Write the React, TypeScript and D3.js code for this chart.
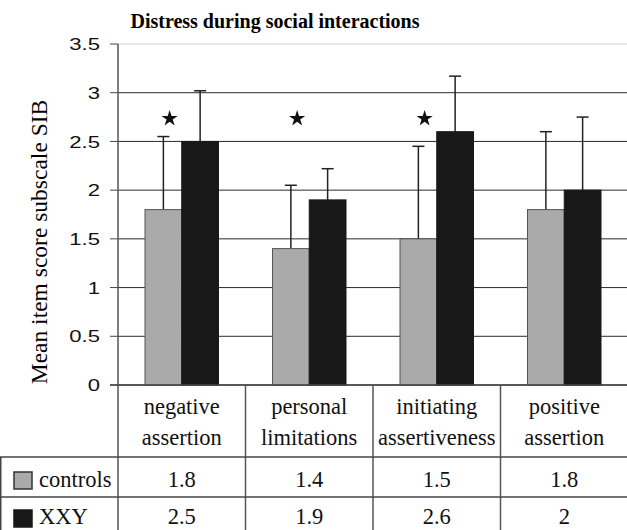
import React from 'react';
import * as d3 from 'd3';

// chart data
const categories = ['negative assertion', 'personal limitations', 'initiating assertiveness', 'positive assertion'];
const categoryLines = [['negative', 'assertion'], ['personal', 'limitations'], ['initiating', 'assertiveness'], ['positive', 'assertion']];
const series = ['controls', 'XXY'];
const controls = [1.8, 1.4, 1.5, 1.8];
const xxy = [2.5, 1.9, 2.6, 2.0];
const controlsSd = [0.75, 0.65, 0.95, 0.8];
const xxySd = [0.52, 0.32, 0.57, 0.75];
const significant = [true, true, true, false];
const yTicks = [0, 0.5, 1, 1.5, 2, 2.5, 3, 3.5];
const tickLabels = ['0', '0.5', '1', '1.5', '2', '2.5', '3', '3.5'];
const starLevel = 2.735;

const W = 627;
const H = 530;
const serif = { fontFamily: "'Liberation Serif', 'Times New Roman', Times, serif" };
const sans = { fontFamily: "'Liberation Sans', Arial, Helvetica, sans-serif" };
const colors = { controls: '#aaaaaa', XXY: '#181818' };

const App: React.FC = () => {
  const plotLeft = 118;
  const plotRight = 628;
  const y = d3.scaleLinear().domain([0, 3.5]).range([385, 44]);
  const x0 = d3.scaleBand<string>().domain(categories).range([plotLeft, plotRight]);
  const step = x0.bandwidth();
  const x1 = d3.scaleBand<string>().domain(series).range([27, step - 27]);
  const bw = x1.bandwidth();
  const values = [controls, xxy];
  const sds = [controlsSd, xxySd];

  const rowTop = 457;
  const rowMid = 497;
  const base = y(0);

  const star = d3.symbol().type(d3.symbolStar).size(81)();

  return (
    <svg width={W} height={H} style={{ position: 'absolute', left: 0, top: 0, background: '#fff' }}>
      <rect x={0} y={0} width={W} height={H} fill="#fff" />
      {/* title */}
      <text x={275} y={28} textAnchor="middle" style={serif} fontWeight="bold" fontSize={20}>
        Distress during social interactions
      </text>
      {/* y title */}
      <text transform={`translate(47,242) rotate(-90)`} textAnchor="middle" style={serif} fontSize={23.5}>
        Mean item score subscale SIB
      </text>

      {/* grid lines */}
      {yTicks.map((t) => (
        <line
          key={'g' + t}
          x1={plotLeft}
          x2={W}
          y1={y(t)}
          y2={y(t)}
          stroke={t === 3.5 ? '#cfcfcf' : '#2a2a2a'}
          strokeWidth={1}
        />
      ))}
      {/* ticks and labels (the source font is drawn wide) */}
      {yTicks.map((t, i) => (
        <g key={'t' + t}>
          <line x1={110} x2={plotLeft} y1={y(t)} y2={y(t)} stroke="#444" />
          <text
            transform={`translate(100,${y(t)}) scale(1.3,1)`}
            dy="0.36em"
            textAnchor="end"
            style={sans}
            fontSize={17}
            fill="#111"
          >
            {tickLabels[i]}
          </text>
        </g>
      ))}

      {/* bars */}
      {categories.map((c, ci) => (
        <g key={c} transform={`translate(${x0(c)},0)`}>
          {series.map((s, si) => {
            const v = values[si][ci];
            const sd = sds[si][ci];
            const bx = x1(s) as number;
            const cx = bx + bw / 2;
            return (
              <g key={s}>
                <line x1={cx} x2={cx} y1={y(v)} y2={y(v + sd)} stroke="#222" strokeWidth={1.5} />
                <line x1={cx - 6} x2={cx + 6} y1={y(v + sd)} y2={y(v + sd)} stroke="#222" strokeWidth={1.5} />
                <rect
                  x={bx}
                  y={y(v)}
                  width={bw}
                  height={base - y(v)}
                  fill={colors[s as 'controls' | 'XXY']}
                  stroke={si === 0 ? '#555' : '#181818'}
                  strokeWidth={1}
                />
              </g>
            );
          })}
          {significant[ci] && (
            <path
              d={star as string}
              transform={`translate(${(x1('controls') as number) + bw * 0.67},${y(starLevel)})`}
              fill="#111"
            />
          )}
        </g>
      ))}

      {/* axis line */}
      <line x1={plotLeft} x2={plotLeft} y1={y(3.5)} y2={H} stroke="#555" strokeWidth={1.5} />
      <line x1={110} x2={W} y1={base} y2={base} stroke="#444" strokeWidth={1.5} />

      {/* data table */}
      {categories.slice(1).map((c) => (
        <line key={'v' + c} x1={x0(c)} x2={x0(c)} y1={base} y2={H} stroke="#555" strokeWidth={1.5} />
      ))}
      <line x1={0} x2={W} y1={rowTop} y2={rowTop} stroke="#444" strokeWidth={1.5} />
      <line x1={0} x2={W} y1={rowMid} y2={rowMid} stroke="#444" strokeWidth={1.5} />
      <line x1={0.75} x2={0.75} y1={rowTop} y2={H} stroke="#444" strokeWidth={1.5} />

      {categories.map((c, ci) => {
        const cx = (x0(c) as number) + step / 2;
        return (
          <g key={'tb' + c} style={serif} fontSize={22.5} textAnchor="middle" fill="#111">
            <text x={cx} y={414}>{categoryLines[ci][0]}</text>
            <text x={cx} y={445}>{categoryLines[ci][1]}</text>
            <text x={cx} y={487}>{controls[ci]}</text>
            <text x={cx} y={524}>{xxy[ci]}</text>
          </g>
        );
      })}

      {/* legend keys in table */}
      <rect x={14} y={472} width={18} height={17} fill={colors.controls} stroke="#333" strokeWidth={1.5} />
      <text x={39} y={487} style={serif} fontSize={22.5} fill="#111">{series[0]}</text>
      <rect x={14} y={510} width={18} height={17} fill={colors.XXY} stroke="#181818" strokeWidth={1.5} />
      <text x={39} y={524} style={serif} fontSize={22.5} fill="#111">{series[1]}</text>
    </svg>
  );
};

export default App;
